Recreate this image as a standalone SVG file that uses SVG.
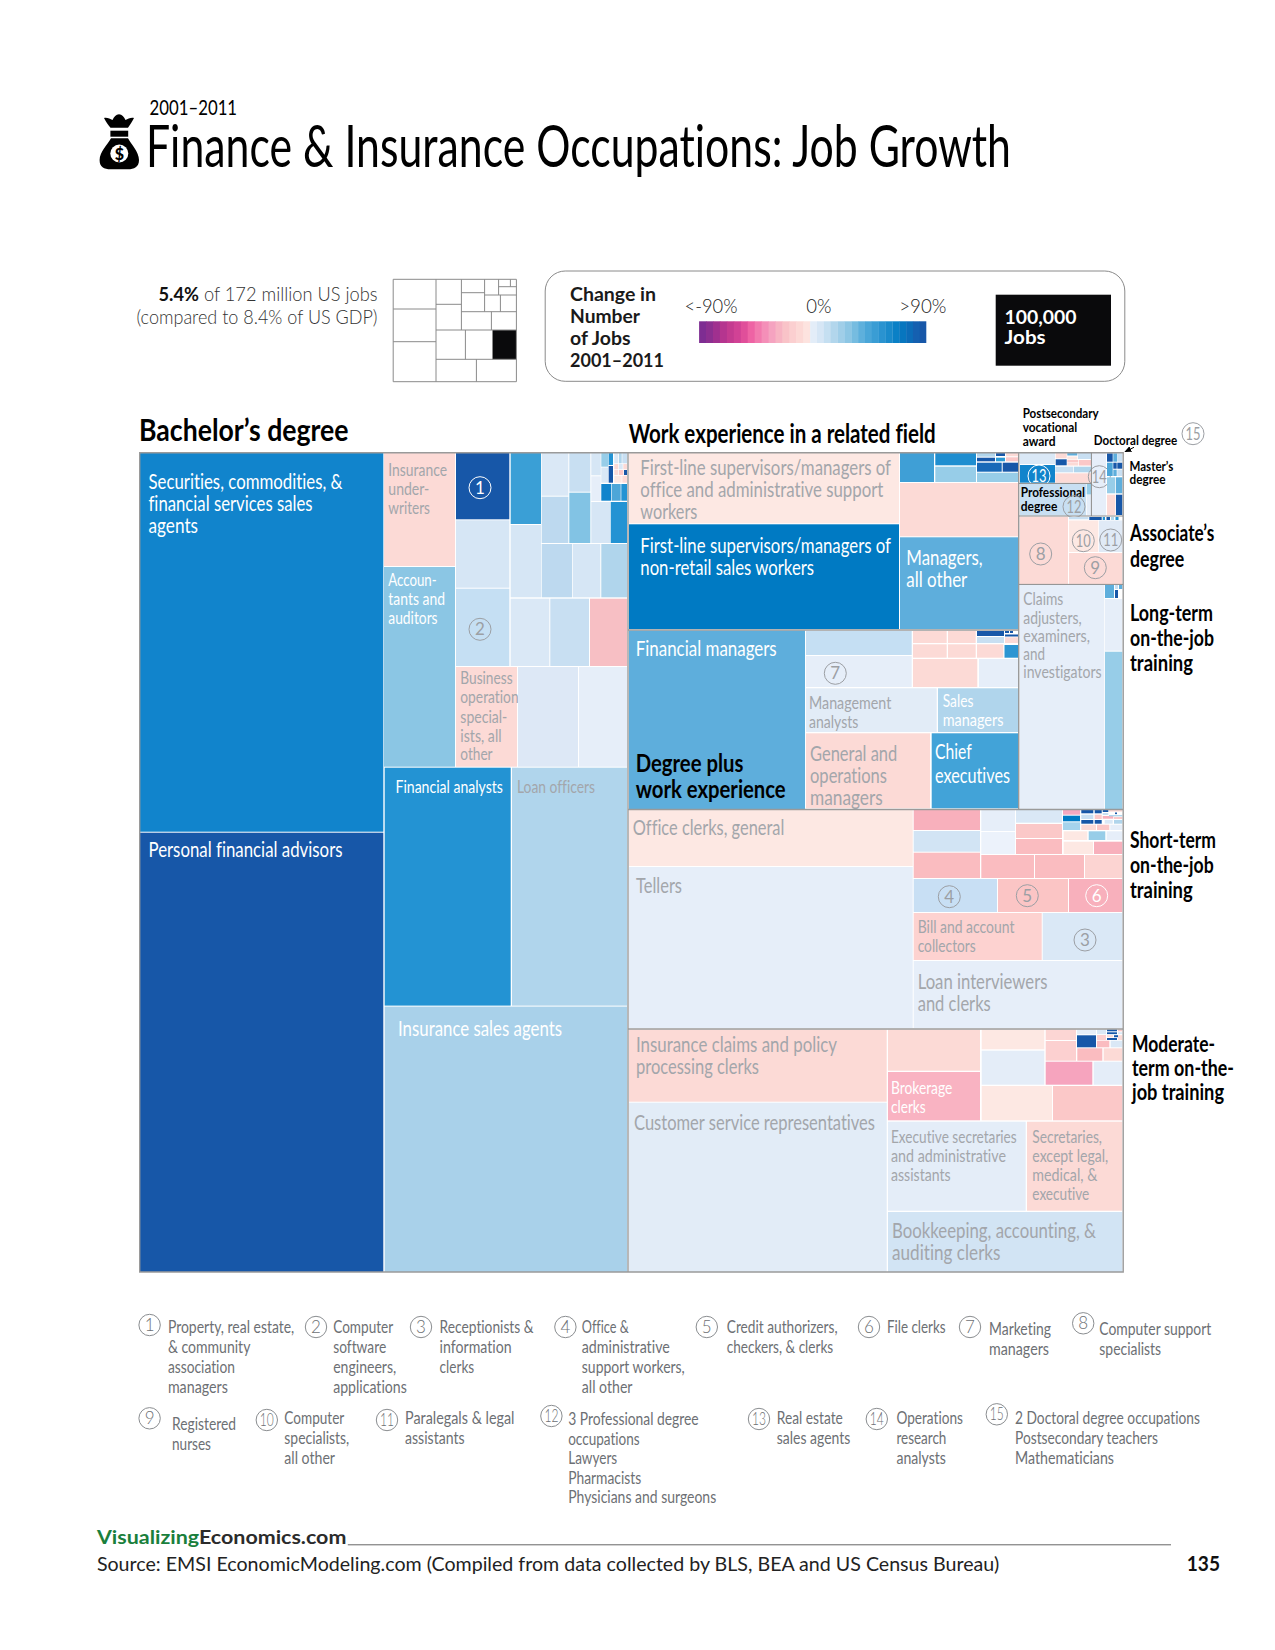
<svg xmlns="http://www.w3.org/2000/svg" width="1275" height="1650" viewBox="0 0 1275 1650">
<style>
text{font-family:"Lato","Noto Sans","Liberation Sans",sans-serif;font-variant-ligatures:none}
.p1{fill:#fde8e3}.p2{fill:#fcdad6}.p3{fill:#fbc8c8}.p4{fill:#fabcc0}.p5{fill:#f8b0bc}.p6{fill:#f6a4be}
.l1{fill:#e6eef9}.l2{fill:#dae8f6}.l3{fill:#c8dff2}.l4{fill:#b0d5ec}.l5{fill:#97cde8}.l6{fill:#bdd9ef}
.m1{fill:#5eaedc}.m2{fill:#42a3d8}.m3{fill:#2393d3}.d1{fill:#1184cc}.d2{fill:#007ac3}.d3{fill:#1757a8}
.w{fill:#fff}.g{fill:#a3a6ab}.k{fill:#000;font-weight:700}
.s16{font-size:17.5px}.s20{font-size:22px}.s13{font-size:13.5px;font-weight:700;fill:#000}.s22{font-size:22px;font-weight:700;fill:#000}
.fn{font-size:17.5px;fill:#6d7074}
.c{fill:none;stroke:#9c9fa4;stroke-width:1}.cw{fill:none;stroke:#fff;stroke-width:1}
.n{font-size:17px;text-anchor:middle;fill:#9c9fa4}.nw{font-size:17px;text-anchor:middle;fill:#fff}
.fc{fill:none;stroke:#8a8d90;stroke-width:1}.fn2{font-size:17px;text-anchor:middle;fill:#6d7074;font-weight:300}
.div{stroke:#9a9a9a;stroke-width:1.4;fill:none}.st{stroke:#8a8a8a;stroke-width:1;fill:none}
.lg{font-size:20px;fill:#222;font-weight:300}.lb{font-size:19px;font-weight:700;fill:#1a1a1a}
</style>
<defs><marker id="ah" markerWidth="7" markerHeight="6" refX="6" refY="3" orient="auto"><path d="M0 0L7 3L0 6Z" fill="#000"/></marker></defs>

<g id="header">
<path d="M104 118C107 117 110 119 112.5 120C114 117 116 114.5 119 114.3C122 114.5 124 117 125.5 120C128 119 131 117 134 118C132 122 130 125 128 127.7H110.5C108 125 106 122 104 118Z" fill="#000"/>
<rect x="110.4" y="130.7" width="17.8" height="6" fill="#000"/>
<path d="M111 138.3H128C131 144 139 152 139 160C139 167 134 169.3 128 169.3H110.6C104 169.3 99.6 167 99.6 160C99.6 152 108 144 111 138.3Z" fill="#000"/>
<circle cx="119.3" cy="153.5" r="9" fill="#fff"/>
<text x="119.3" y="159.5" font-size="16" font-weight="900" text-anchor="middle" fill="#000">$</text>
<text x="149.6" y="115" font-size="22" fill="#000" textLength="87.5" lengthAdjust="spacingAndGlyphs">2001–2011</text>
<text x="146" y="167.3" font-size="58" fill="#000" textLength="865" lengthAdjust="spacingAndGlyphs">Finance &amp; Insurance Occupations: Job Growth</text>
</g>

<g id="share-note">
<text x="158.5" y="300.7" font-size="19" fill="#333" font-weight="300" textLength="219" lengthAdjust="spacingAndGlyphs"><tspan font-weight="700" fill="#111">5.4%</tspan> of 172 million US jobs</text>
<text x="136.5" y="324" font-size="19" fill="#333" font-weight="300" textLength="241" lengthAdjust="spacingAndGlyphs">(compared to 8.4% of US GDP)</text>
</g>
<g id="mini-map">
<rect x="492.5" y="330" width="23.9" height="29.3" fill="#0a0a0c"/>
<path class="st" d="M393.2 279.3H516.4V381.7H393.2ZM436 279.3V381.7M393.2 309H436M393.2 341.7H436M436 304.3H461.4M461.4 279.3V330M436 330H516.4M436 359.3H516.4M461.4 292.7H484.6M461.4 311.7H516.4M484.6 279.3V311.7M498.6 279.3V295M498.6 286.7H516.4M510.4 279.3V286.7M484.6 295H516.4M500.4 295V311.7M491.4 311.7V330M465.4 330V359.3M492.5 330V359.3M476.4 359.3V381.7"/>
</g>

<g id="legend">
<rect x="545.2" y="271" width="579.6" height="110.3" rx="20" fill="#fff" stroke="#8a8a8a" stroke-width="1"/>
<text x="570" y="300.7" class="lb" textLength="86" lengthAdjust="spacingAndGlyphs">Change in</text>
<text x="570" y="323" class="lb" textLength="70" lengthAdjust="spacingAndGlyphs">Number</text>
<text x="570" y="344.7" class="lb" textLength="60.5" lengthAdjust="spacingAndGlyphs">of Jobs</text>
<text x="570" y="366.7" class="lb" textLength="94" lengthAdjust="spacingAndGlyphs">2001–2011</text>
<text x="684.5" y="312.7" class="lg" textLength="53" lengthAdjust="spacingAndGlyphs">&lt;-90%</text>
<text x="806.3" y="312.7" class="lg" textLength="25.2" lengthAdjust="spacingAndGlyphs">0%</text>
<text x="899.2" y="312.7" class="lg" textLength="47.3" lengthAdjust="spacingAndGlyphs">&gt;90%</text>
<g id="scale" transform="translate(0.8,0)">
<rect x="698.3" y="321.3" width="7.4" height="21.7" fill="#7e2d92"/><rect x="705.2" y="321.3" width="7.4" height="21.7" fill="#8c2f90"/><rect x="712.2" y="321.3" width="7.4" height="21.7" fill="#a0308f"/><rect x="719.1" y="321.3" width="7.4" height="21.7" fill="#b5358f"/><rect x="726.1" y="321.3" width="7.4" height="21.7" fill="#c43b90"/><rect x="733" y="321.3" width="7.4" height="21.7" fill="#d14295"/><rect x="740" y="321.3" width="7.4" height="21.7" fill="#e04f9a"/><rect x="746.9" y="321.3" width="7.4" height="21.7" fill="#ee63a4"/><rect x="753.9" y="321.3" width="7.4" height="21.7" fill="#f27aae"/><rect x="760.8" y="321.3" width="7.4" height="21.7" fill="#f48fb8"/><rect x="767.8" y="321.3" width="7.4" height="21.7" fill="#f5a3c0"/><rect x="774.7" y="321.3" width="7.4" height="21.7" fill="#f7b4c3"/><rect x="781.7" y="321.3" width="7.4" height="21.7" fill="#f9c3c8"/><rect x="788.6" y="321.3" width="7.4" height="21.7" fill="#fbcfd0"/><rect x="795.6" y="321.3" width="7.4" height="21.7" fill="#fcd9d6"/><rect x="802.5" y="321.3" width="7.2" height="21.7" fill="#fde3df"/>
<rect x="809.4" y="321.3" width="7.1" height="21.7" fill="#e3edf8"/><rect x="816.2" y="321.3" width="7.1" height="21.7" fill="#d6e6f5"/><rect x="823.1" y="321.3" width="7.1" height="21.7" fill="#c5dff1"/><rect x="829.9" y="321.3" width="7.1" height="21.7" fill="#b2d6ec"/><rect x="836.8" y="321.3" width="7.1" height="21.7" fill="#a0cee8"/><rect x="843.6" y="321.3" width="7.1" height="21.7" fill="#8dc6e4"/><rect x="850.5" y="321.3" width="7.1" height="21.7" fill="#76bce0"/><rect x="857.3" y="321.3" width="7.1" height="21.7" fill="#5eb0dc"/><rect x="864.2" y="321.3" width="7.1" height="21.7" fill="#4aa6d8"/><rect x="871" y="321.3" width="7.1" height="21.7" fill="#3a9dd4"/><rect x="877.9" y="321.3" width="7.1" height="21.7" fill="#2a93d0"/><rect x="884.7" y="321.3" width="7.1" height="21.7" fill="#1a8acb"/><rect x="891.6" y="321.3" width="7.1" height="21.7" fill="#0a80c6"/><rect x="898.4" y="321.3" width="7.1" height="21.7" fill="#0776bf"/><rect x="905.3" y="321.3" width="7.1" height="21.7" fill="#0c6cb8"/><rect x="912.1" y="321.3" width="7.1" height="21.7" fill="#1560b0"/><rect x="919" y="321.3" width="6.5" height="21.7" fill="#1757a8"/>
</g>
<rect x="995.7" y="294.7" width="115.3" height="71" fill="#0a0a0c"/>
<text x="1004.6" y="324" font-size="19" font-weight="700" fill="#fff" textLength="72" lengthAdjust="spacingAndGlyphs">100,000</text>
<text x="1004.6" y="344.3" font-size="19" font-weight="700" fill="#fff" textLength="41" lengthAdjust="spacingAndGlyphs">Jobs</text>
</g>

<g id="bachelors">
<g id="securities"><rect class="d1" x="139.7" y="452.7" width="243.6" height="379"/>
<text x="148.5" y="488.7" class="s20 w" textLength="194" lengthAdjust="spacingAndGlyphs">Securities, commodities, &amp;</text><text x="148.5" y="510.8" class="s20 w" textLength="164" lengthAdjust="spacingAndGlyphs">financial services sales</text><text x="148.5" y="533" class="s20 w" textLength="49.5" lengthAdjust="spacingAndGlyphs">agents</text></g>
<g id="personal-advisors"><rect class="d3" x="139.7" y="832.7" width="243.6" height="439.3"/>
<text x="148.5" y="857" class="s20 w" textLength="194" lengthAdjust="spacingAndGlyphs">Personal financial advisors</text></g>
<g id="underwriters"><rect class="p2" x="384" y="452.7" width="71" height="113.3"/>
<text x="388.3" y="476" class="s16 g" textLength="58.7" lengthAdjust="spacingAndGlyphs">Insurance</text><text x="388.3" y="495.3" class="s16 g" textLength="41" lengthAdjust="spacingAndGlyphs">under-</text><text x="388.3" y="514.3" class="s16 g" textLength="41.7" lengthAdjust="spacingAndGlyphs">writers</text></g>
<g id="accountants"><rect x="384" y="567" width="71" height="199.7" fill="#8bc6e4"/>
<text x="388.3" y="586" class="s16 w" textLength="48.3" lengthAdjust="spacingAndGlyphs">Accoun-</text><text x="388.3" y="605" class="s16 w" textLength="56.7" lengthAdjust="spacingAndGlyphs">tants and</text><text x="388.3" y="624.3" class="s16 w" textLength="49.3" lengthAdjust="spacingAndGlyphs">auditors</text></g>
<g id="cell-1"><rect class="d3" x="456" y="452.7" width="53.3" height="66.6"/><circle class="cw" cx="480" cy="487.7" r="11"/><text x="480" y="493.7" class="nw">1</text></g>
<rect x="456" y="520.3" width="53.3" height="67.4" fill="#d6e6f5"/>
<g id="cell-2"><rect x="456" y="588.7" width="53.3" height="77.3" fill="#c5dff3"/><circle class="c" cx="480" cy="629.3" r="11"/><text x="480" y="635.3" class="n">2</text></g>
<g id="business-ops"><rect class="p2" x="456" y="667" width="61" height="99.7"/>
<text x="460.3" y="684.3" class="s16 g" textLength="52.3" lengthAdjust="spacingAndGlyphs">Business</text><text x="460.3" y="703.3" class="s16 g" textLength="58.3" lengthAdjust="spacingAndGlyphs">operation</text><text x="460.3" y="722.6" class="s16 g" textLength="47" lengthAdjust="spacingAndGlyphs">special-</text><text x="460.3" y="741.6" class="s16 g" textLength="41.3" lengthAdjust="spacingAndGlyphs">ists, all</text><text x="460.3" y="760.3" class="s16 g" textLength="32.3" lengthAdjust="spacingAndGlyphs">other</text></g>
<rect x="518" y="667" width="60" height="99.7" fill="#dde8f6"/>
<rect class="l1" x="579" y="667" width="48" height="99.7"/>
<rect x="510.7" y="452.7" width="30.3" height="71.3" fill="#3a9fd6"/>
<rect x="510.7" y="525" width="30.3" height="72.3" fill="#d6e6f5"/>
<rect class="l2" x="541.7" y="452.7" width="26.6" height="43"/>
<rect class="l6" x="541.7" y="496.7" width="26.6" height="46.3"/>
<rect class="l3" x="569.3" y="452.7" width="21" height="39"/>
<rect x="569.3" y="492.7" width="21" height="50.3" fill="#82c3e4"/>
<rect x="591.3" y="452.7" width="9.4" height="22.6" fill="#d6e6f5"/>
<rect class="l1" x="591.3" y="476.3" width="9.4" height="24.7"/>
<rect x="591.3" y="502" width="18.7" height="41" fill="#d6e6f5"/>
<rect class="m3" x="610.7" y="502" width="16.3" height="41"/>
<rect class="d1" x="601.3" y="484" width="10" height="16.7"/>
<rect x="612" y="484" width="8.7" height="16.7" fill="#4da6d8"/>
<rect class="m3" x="621.3" y="484" width="5.7" height="16.7"/>
<rect class="l5" x="601.3" y="452.7" width="7" height="14"/>
<rect class="l2" x="601.3" y="467.5" width="7" height="15.2"/>
<rect class="m3" x="608.7" y="452.7" width="4.3" height="12.3"/>
<rect class="d3" x="608.7" y="466" width="4.3" height="16.7"/>
<rect class="l2" x="614.3" y="452.7" width="4" height="10.6"/><rect class="l4" x="619" y="452.7" width="2.7" height="10.6"/><rect class="l3" x="622.3" y="452.7" width="4.7" height="10.6"/>
<rect class="p2" x="614.3" y="464" width="4" height="5.3"/><rect class="l2" x="619" y="464" width="3.7" height="5.3"/><rect class="p2" x="623.3" y="464" width="3.7" height="5.3"/>
<rect class="p2" x="614.3" y="470" width="4" height="5"/><rect class="p3" x="619" y="470" width="4.3" height="5"/><rect class="d3" x="624" y="470" width="3" height="5"/>
<rect class="p1" x="614.3" y="475.7" width="7.4" height="7"/><rect class="p2" x="622.3" y="475.7" width="4.7" height="7"/>
<rect class="l6" x="541.7" y="544" width="30.3" height="53.3"/>
<rect x="572.7" y="544" width="27.6" height="53.3" fill="#d6e6f5"/>
<rect class="l4" x="601.3" y="544" width="25.7" height="53.3"/>
<rect class="l2" x="510.7" y="598.7" width="38.6" height="67.3"/>
<rect class="l3" x="550.3" y="598.7" width="38.7" height="67.3"/>
<rect x="590" y="598.7" width="37" height="67.3" fill="#f7bfc4"/>
<g id="financial-analysts"><rect class="m3" x="384.7" y="767.7" width="126" height="237.9"/>
<text x="395.5" y="793" class="s16 w" textLength="107.4" lengthAdjust="spacingAndGlyphs">Financial analysts</text></g>
<g id="loan-officers"><rect class="l4" x="512" y="767.7" width="115" height="237.9"/>
<text x="517" y="793" class="s16 g" textLength="78" lengthAdjust="spacingAndGlyphs">Loan officers</text></g>
<g id="insurance-sales"><rect x="384.7" y="1006.6" width="242.3" height="265.4" fill="#a9d1ea"/>
<text x="398" y="1036" class="s20 w" textLength="164" lengthAdjust="spacingAndGlyphs">Insurance sales agents</text></g>
</g>

<g id="work-experience">
<g id="supervisors-office"><rect class="p1" x="629" y="452.7" width="270" height="70.6"/>
<text x="640.3" y="475" class="s20 g" textLength="250.7" lengthAdjust="spacingAndGlyphs">First-line supervisors/managers of</text><text x="640.3" y="496.7" class="s20 g" textLength="243" lengthAdjust="spacingAndGlyphs">office and administrative support</text><text x="640.3" y="519.3" class="s20 g" textLength="57" lengthAdjust="spacingAndGlyphs">workers</text></g>
<g id="supervisors-sales"><rect class="d2" x="629" y="524.3" width="270" height="104.7"/>
<text x="640.3" y="552.7" class="s20 w" textLength="250.7" lengthAdjust="spacingAndGlyphs">First-line supervisors/managers of</text><text x="640.3" y="575" class="s20 w" textLength="173.7" lengthAdjust="spacingAndGlyphs">non-retail sales workers</text></g>
<rect x="900" y="452.7" width="34" height="29.3" fill="#3f9fd6"/>
<rect x="935.3" y="452.7" width="40.7" height="12.6" fill="#1f8ed0"/>
<rect class="l5" x="935.3" y="466.7" width="40.7" height="15.3"/>
<rect class="l4" x="977" y="452.7" width="18" height="4"/><rect class="d3" x="977" y="457.7" width="18" height="3.6"/>
<rect class="d3" x="996" y="452.7" width="9" height="3.3"/><rect x="996" y="457.7" width="9" height="3.6" fill="#2d9ad4"/>
<rect class="p2" x="1006" y="452.7" width="12" height="3.6"/><rect class="p3" x="1006" y="457.3" width="12" height="4"/>
<rect x="977" y="462.7" width="24.7" height="9" fill="#1869b8"/><rect class="d3" x="1002.7" y="462.7" width="15.3" height="9"/>
<rect class="l5" x="977" y="472.7" width="41" height="9.3"/>
<rect class="p2" x="900" y="483" width="118" height="53.3"/>
<g id="managers-other"><rect class="m1" x="900" y="537.3" width="118" height="91.7"/>
<text x="906.3" y="565" class="s20 w" textLength="76.3" lengthAdjust="spacingAndGlyphs">Managers,</text><text x="906.3" y="586.7" class="s20 w" textLength="61" lengthAdjust="spacingAndGlyphs">all other</text></g>
</g>

<g id="degree-plus">
<g id="financial-managers"><rect class="m1" x="629" y="630.5" width="176" height="178.5"/>
<text x="635.7" y="655.7" class="s20 w" textLength="141" lengthAdjust="spacingAndGlyphs">Financial managers</text></g>
<rect x="806" y="631" width="105.7" height="24" fill="#c5dff3"/>
<g id="cell-7"><rect class="l1" x="806" y="656" width="105.7" height="31"/><circle class="c" cx="835.3" cy="673.3" r="11"/><text x="835.3" y="679.3" class="n">7</text></g>
<rect class="p2" x="913" y="631" width="33.7" height="12"/><rect class="p2" x="948" y="631" width="27.7" height="12"/>
<rect class="p2" x="913" y="644.3" width="33.7" height="13.4"/><rect class="p2" x="948" y="644.3" width="27.7" height="13.4"/><rect class="p2" x="977" y="644.3" width="26.3" height="13.4"/>
<rect class="d3" x="977" y="631" width="27" height="5"/><rect class="l3" x="977" y="637" width="27" height="6"/>
<rect class="d3" x="1005" y="631" width="4" height="2"/><rect class="d3" x="1010" y="631" width="3" height="2"/><rect class="d3" x="1005" y="634.5" width="13" height="2"/>
<rect class="p2" x="1005" y="637.3" width="13" height="5.7"/><rect x="1004.5" y="645" width="13.5" height="12.7" fill="#2d95d2"/>
<rect class="p2" x="913" y="659" width="64.3" height="28"/><rect class="l1" x="979" y="659" width="39" height="28"/>
<g id="management-analysts"><rect x="806" y="688.3" width="130.7" height="43.7" fill="#e2ecf7"/>
<text x="809" y="709.3" class="s16 g" textLength="82.3" lengthAdjust="spacingAndGlyphs">Management</text><text x="809" y="728" class="s16 g" textLength="49.3" lengthAdjust="spacingAndGlyphs">analysts</text></g>
<g id="sales-managers"><rect class="l4" x="938" y="688.3" width="80" height="43.7"/>
<text x="942.7" y="707" class="s16 w" textLength="30.7" lengthAdjust="spacingAndGlyphs">Sales</text><text x="942.7" y="726" class="s16 w" textLength="60.7" lengthAdjust="spacingAndGlyphs">managers</text></g>
<g id="general-managers"><rect class="p2" x="806" y="733.3" width="124" height="75"/>
<text x="810" y="760.7" class="s20 g" textLength="87.3" lengthAdjust="spacingAndGlyphs">General and</text><text x="810" y="782.7" class="s20 g" textLength="77" lengthAdjust="spacingAndGlyphs">operations</text><text x="810" y="805" class="s20 g" textLength="72.7" lengthAdjust="spacingAndGlyphs">managers</text></g>
<g id="chief-executives"><rect class="m2" x="931.7" y="733.3" width="86.3" height="75"/>
<text x="935" y="759" class="s20 w" textLength="36.7" lengthAdjust="spacingAndGlyphs">Chief</text><text x="935" y="782.7" class="s20 w" textLength="75" lengthAdjust="spacingAndGlyphs">executives</text></g>
<text x="635.7" y="772.3" font-size="25" class="k" textLength="107.7" lengthAdjust="spacingAndGlyphs">Degree plus</text>
<text x="635.7" y="798.3" font-size="25" class="k" textLength="150" lengthAdjust="spacingAndGlyphs">work experience</text>
</g>

<g id="postsecondary">
<rect class="l2" x="1020" y="452.7" width="35" height="11.3"/>
<g id="cell-13"><rect class="d1" x="1020" y="465" width="35" height="17.7"/><circle class="cw" cx="1039" cy="476" r="11"/><text x="1039" y="482" class="nw" textLength="15" lengthAdjust="spacingAndGlyphs">13</text></g>
<rect class="p2" x="1055.7" y="453" width="11" height="5.3"/><rect class="m1" x="1067.3" y="453" width="10" height="2.5"/><rect class="p1" x="1067.3" y="456.5" width="10" height="3"/><rect class="l3" x="1078" y="453" width="13" height="6"/>
<rect class="d3" x="1055.7" y="459.3" width="11" height="6"/><rect class="p3" x="1067.3" y="460" width="11" height="2.5"/><rect class="p2" x="1067.3" y="463" width="11" height="2.5"/><rect class="p3" x="1079" y="460" width="12" height="5.5"/>
<rect class="l3" x="1055.3" y="466.7" width="18" height="5.6"/><rect class="l4" x="1074" y="466.7" width="17" height="5.6"/>
<rect class="p2" x="1055.3" y="473.3" width="35.7" height="9.4"/>
<g id="cell-12"><rect class="l3" x="1020" y="484" width="66" height="31.5"/><rect class="l5" x="1086.7" y="484" width="4.3" height="10.5"/><rect class="l1" x="1086.7" y="495" width="4.3" height="20.5"/>
<text x="1020.7" y="496.7" class="s13" textLength="64.3" lengthAdjust="spacingAndGlyphs">Professional</text><text x="1020.7" y="510.7" class="s13" textLength="36.6" lengthAdjust="spacingAndGlyphs">degree</text>
<circle class="c" cx="1074" cy="506.7" r="11"/><text x="1074" y="512.7" class="n" textLength="15" lengthAdjust="spacingAndGlyphs">12</text></g>
<g id="cell-14"><rect class="l1" x="1091.7" y="452.7" width="14.3" height="63"/><circle class="c" cx="1099.3" cy="476.7" r="11"/><text x="1099.3" y="482.7" class="n" textLength="15" lengthAdjust="spacingAndGlyphs">14</text></g>
<rect class="d3" x="1107" y="453.3" width="5.7" height="8.4"/><rect class="m1" x="1113.3" y="453.3" width="4" height="8.4"/><rect class="l3" x="1118" y="453.3" width="4.3" height="8.4"/>
<rect x="1107" y="462.7" width="5.7" height="13.3" fill="#4da6d8"/><rect class="d3" x="1113.3" y="462.7" width="3.4" height="6"/><rect class="m1" x="1113.3" y="469.7" width="3.4" height="6.3"/><rect class="d3" x="1117.3" y="462.7" width="5" height="6"/><rect class="l3" x="1117.3" y="469.7" width="5" height="6.3"/>
<rect class="l5" x="1107" y="477.3" width="8.3" height="16"/><rect class="m1" x="1116" y="477.3" width="6.3" height="16"/>
<rect class="p2" x="1107" y="494.7" width="8.3" height="20.3"/><rect class="d3" x="1116" y="494.7" width="6.3" height="20.3"/>
<rect class="d3" x="1089.3" y="517" width="12.4" height="3"/><rect class="m3" x="1102.7" y="517" width="2.3" height="3"/><rect class="d3" x="1106.5" y="517" width="3.5" height="3"/><rect class="l4" x="1111" y="517" width="3" height="3"/><rect class="m3" x="1115.5" y="517" width="3" height="3"/><rect class="l3" x="1069" y="517" width="19.5" height="2.3"/>
<g id="cell-8"><rect class="p2" x="1019.7" y="516.7" width="48.3" height="67.3"/><circle class="c" cx="1040.7" cy="554" r="11"/><text x="1040.7" y="560" class="n">8</text></g>
<g id="cell-10"><rect class="p1" x="1069" y="520.5" width="29.3" height="31.5"/><circle class="c" cx="1083.3" cy="540.7" r="11"/><text x="1083.3" y="546.7" class="n" textLength="15" lengthAdjust="spacingAndGlyphs">10</text></g>
<g id="cell-11"><rect x="1099" y="520.5" width="23.3" height="31.5" fill="#e0eaf6"/><circle class="c" cx="1110.7" cy="540" r="11"/><text x="1110.7" y="546" class="n" textLength="15" lengthAdjust="spacingAndGlyphs">11</text></g>
<g id="cell-9"><rect class="p2" x="1069" y="553" width="53.3" height="31"/><circle class="c" cx="1095.3" cy="567.7" r="11"/><text x="1095.3" y="573.7" class="n">9</text></g>
<g id="claims"><rect class="l1" x="1019.7" y="585" width="84.6" height="224"/>
<text x="1023.3" y="605" class="s16 g" textLength="40" lengthAdjust="spacingAndGlyphs">Claims</text><text x="1023.3" y="624" class="s16 g" textLength="58.3" lengthAdjust="spacingAndGlyphs">adjusters,</text><text x="1023.3" y="642.3" class="s16 g" textLength="66.7" lengthAdjust="spacingAndGlyphs">examiners,</text><text x="1023.3" y="660" class="s16 g" textLength="21.7" lengthAdjust="spacingAndGlyphs">and</text><text x="1023.3" y="677.7" class="s16 g" textLength="78.3" lengthAdjust="spacingAndGlyphs">investigators</text></g>
<rect class="m1" x="1105" y="585" width="9" height="13"/><rect class="d3" x="1115" y="590" width="3" height="8"/><rect class="l3" x="1115" y="585" width="3" height="4"/><rect class="m1" x="1119" y="585" width="3.3" height="4"/><rect class="l1" x="1105" y="599" width="17.3" height="51.7"/>
<rect class="l5" x="1105" y="651.7" width="17.3" height="157.3"/>
</g>

<g id="short-term">
<g id="office-clerks"><rect class="p1" x="629" y="810" width="283.7" height="56"/>
<text x="632.8" y="835" class="s20 g" textLength="151.6" lengthAdjust="spacingAndGlyphs">Office clerks, general</text></g>
<g id="tellers"><rect class="l1" x="629" y="867" width="283.7" height="161"/>
<text x="636" y="893" class="s20 g" textLength="46" lengthAdjust="spacingAndGlyphs">Tellers</text></g>
<rect class="p5" x="913.7" y="810" width="66.3" height="20"/>
<rect x="913.7" y="831" width="66.3" height="20.7" fill="#d2e4f4"/>
<rect class="p4" x="913.7" y="852.7" width="66.3" height="25.3"/>
<rect class="l1" x="981.3" y="810" width="33.7" height="21"/>
<rect x="981.3" y="832" width="33.7" height="22" fill="#ecf2fb"/>
<rect class="l2" x="1016" y="810" width="46" height="12.7"/>
<rect class="p3" x="1016" y="824" width="46" height="14"/>
<rect class="p4" x="1016" y="839" width="46" height="15"/>
<rect class="p4" x="981.3" y="855" width="52.7" height="23"/>
<rect class="p4" x="1035" y="855" width="49" height="23"/>
<rect x="1085" y="855" width="37.3" height="23" fill="#fcd4d2"/>
<rect x="1063" y="810" width="17" height="4.7" fill="#f4a9c0"/><rect class="d2" x="1063" y="815.7" width="17" height="5.6"/><rect x="1063" y="822.3" width="17" height="7.7" fill="#a5d3ec"/>
<rect class="d3" x="1081.3" y="810" width="12" height="3.3"/><rect class="l3" x="1081.3" y="814.7" width="12" height="4.3"/><rect class="d3" x="1081.3" y="820" width="12" height="3.7"/>
<rect class="d3" x="1094.7" y="810" width="7" height="3.3"/><rect class="p3" x="1094.7" y="814.7" width="7" height="4.3"/><rect class="d3" x="1094.7" y="820" width="7" height="3.7"/>
<rect class="d3" x="1102.7" y="810" width="5.6" height="2"/><rect class="l3" x="1102.7" y="813" width="5.6" height="2"/><rect class="p5" x="1102.7" y="816" width="10.6" height="2.7"/>
<rect class="l2" x="1104.7" y="820" width="8" height="3.7"/><rect class="l4" x="1114" y="820" width="8.3" height="3.7"/>
<rect class="p2" x="1109" y="810" width="13.3" height="1.6"/><rect class="d3" x="1115" y="812.5" width="2" height="1.6"/><rect class="l4" x="1109" y="815" width="13.3" height="1.4"/><rect class="p3" x="1114" y="817" width="8.3" height="2"/>
<rect class="p2" x="1081.3" y="824.7" width="14.7" height="5.3"/><rect class="p3" x="1097" y="824.7" width="12.3" height="5.3"/><rect class="l1" x="1110.3" y="824.7" width="12" height="5.3"/>
<rect class="p1" x="1063.7" y="831.3" width="23.6" height="8.7"/><rect class="l5" x="1088.7" y="831.3" width="16.6" height="8.7"/><rect class="l1" x="1106.7" y="831.3" width="15.6" height="8.7"/>
<rect class="p1" x="1063.7" y="841.7" width="29.3" height="12.3"/><rect class="p5" x="1094" y="841.7" width="28.3" height="12.3"/>
<g id="cell-4"><rect x="913.7" y="879" width="83.3" height="33" fill="#c8dff4"/><circle class="c" cx="949.3" cy="896.7" r="11"/><text x="949.3" y="902.7" class="n">4</text></g>
<g id="cell-5"><rect x="998" y="879" width="70" height="33" fill="#fbc5c5"/><circle class="c" cx="1027.3" cy="895.7" r="11"/><text x="1027.3" y="901.7" class="n">5</text></g>
<g id="cell-6"><rect class="p5" x="1069" y="879" width="53.3" height="33"/><circle class="cw" cx="1096.7" cy="895.7" r="11"/><text x="1096.7" y="901.7" class="nw">6</text></g>
<g id="bill-collectors"><rect x="913.7" y="913" width="128" height="47" fill="#fdd2d0"/>
<text x="917.7" y="932.6" class="s16 g" textLength="96.7" lengthAdjust="spacingAndGlyphs">Bill and account</text><text x="917.7" y="951.6" class="s16 g" textLength="58" lengthAdjust="spacingAndGlyphs">collectors</text></g>
<g id="cell-3"><rect class="l2" x="1042.7" y="913" width="79.6" height="47"/><circle class="c" cx="1085" cy="940" r="11"/><text x="1085" y="946" class="n">3</text></g>
<g id="loan-interviewers"><rect class="l1" x="913.7" y="961" width="208.6" height="67"/>
<text x="917.7" y="989.3" class="s20 g" textLength="129.7" lengthAdjust="spacingAndGlyphs">Loan interviewers</text><text x="917.7" y="1011" class="s20 g" textLength="73" lengthAdjust="spacingAndGlyphs">and clerks</text></g>
</g>

<g id="moderate-term">
<g id="claims-clerks"><rect class="p2" x="629" y="1029.5" width="257.7" height="72.2"/>
<text x="636" y="1052" class="s20 g" textLength="201" lengthAdjust="spacingAndGlyphs">Insurance claims and policy</text><text x="636" y="1074" class="s20 g" textLength="123" lengthAdjust="spacingAndGlyphs">processing clerks</text></g>
<g id="customer-service"><rect x="629" y="1102.7" width="257.7" height="169.3" fill="#e2ecf7"/>
<text x="634" y="1130" class="s20 g" textLength="241" lengthAdjust="spacingAndGlyphs">Customer service representatives</text></g>
<rect class="p2" x="888" y="1029.5" width="92" height="41.2"/>
<g id="brokerage"><rect x="888" y="1072" width="92" height="48.3" fill="#f9b3c2"/>
<text x="891" y="1094.3" class="s16 w" textLength="61.3" lengthAdjust="spacingAndGlyphs">Brokerage</text><text x="891" y="1113.3" class="s16 w" textLength="34.7" lengthAdjust="spacingAndGlyphs">clerks</text></g>
<rect class="p1" x="981.7" y="1029.5" width="62.6" height="19.8"/>
<rect x="981.7" y="1050.7" width="62.6" height="34" fill="#e4edf8"/>
<rect class="p1" x="981.7" y="1086" width="70.3" height="34.3"/>
<rect class="p3" x="1053" y="1086" width="69.3" height="34.3"/>
<rect x="1045.7" y="1029.5" width="30.3" height="10.5" fill="#fcd6d4"/>
<rect x="1045.7" y="1041" width="30.3" height="19.7" fill="#fcd0d0"/>
<rect class="p6" x="1045.7" y="1061.7" width="46.6" height="23"/>
<rect x="1093.7" y="1061.7" width="28.6" height="23" fill="#e4edf8"/>
<rect class="d3" x="1077" y="1035.3" width="19" height="12"/>
<rect class="p4" x="1077.3" y="1048.3" width="25" height="12.4"/>
<rect class="p2" x="1103.7" y="1048.3" width="18.6" height="12.4"/>
<rect class="p4" x="1097" y="1040.7" width="12.3" height="6.6"/>
<rect class="l2" x="1110.7" y="1040.7" width="11.6" height="6.6"/>
<rect x="1097" y="1035" width="9" height="5" fill="#fcd0d0"/>
<rect class="l1" x="1077" y="1029.5" width="19" height="4.8"/>
<rect class="l2" x="1097" y="1029.5" width="9" height="4.7"/>
<rect class="d3" x="1107" y="1029.5" width="10" height="1.8"/><rect class="p3" x="1118" y="1029.5" width="4.3" height="1.8"/><rect class="d3" x="1107" y="1032.3" width="10" height="1.8"/><rect class="l2" x="1118" y="1032.3" width="4.3" height="1.8"/><rect class="d3" x="1114" y="1035.2" width="4" height="2"/><rect class="p2" x="1107" y="1035.2" width="6" height="2"/><rect class="d3" x="1107" y="1038" width="10" height="2"/><rect class="p2" x="1118" y="1035.2" width="4.3" height="4.8"/>
<g id="executive-secretaries"><rect x="888" y="1121.7" width="137.7" height="89" fill="#e4edf8"/>
<text x="891" y="1143" class="s16 g" textLength="125.7" lengthAdjust="spacingAndGlyphs">Executive secretaries</text><text x="891" y="1162.3" class="s16 g" textLength="115" lengthAdjust="spacingAndGlyphs">and administrative</text><text x="891" y="1181" class="s16 g" textLength="59.7" lengthAdjust="spacingAndGlyphs">assistants</text></g>
<g id="secretaries"><rect class="p2" x="1027" y="1121.7" width="95.3" height="89"/>
<text x="1032.3" y="1143" class="s16 g" textLength="69.7" lengthAdjust="spacingAndGlyphs">Secretaries,</text><text x="1032.3" y="1162.3" class="s16 g" textLength="76" lengthAdjust="spacingAndGlyphs">except legal,</text><text x="1032.3" y="1181" class="s16 g" textLength="65" lengthAdjust="spacingAndGlyphs">medical, &amp;</text><text x="1032.3" y="1200" class="s16 g" textLength="57" lengthAdjust="spacingAndGlyphs">executive</text></g>
<g id="bookkeeping"><rect x="888" y="1212" width="234.3" height="60" fill="#d2e4f4"/>
<text x="892" y="1238.3" class="s20 g" textLength="204" lengthAdjust="spacingAndGlyphs">Bookkeeping, accounting, &amp;</text><text x="892" y="1259.5" class="s20 g" textLength="108.5" lengthAdjust="spacingAndGlyphs">auditing clerks</text></g>
</g>

<g id="dividers">
<path class="div" d="M139.7 452.7H1123.2V1272H139.7ZM628 452.7V1272M628 630H1018.5M1018.7 452.7V809.5M628 809.5H1123.2M628 1029H1123.2"/>
<path class="st" d="M1019 483.4H1091.4M1091.4 452.7V516M1019 516H1123M1019 584.4H1123" stroke-width="1.2"/>
</g>

<g id="group-labels">
<text x="139" y="441" font-size="30" class="k" textLength="209.5" lengthAdjust="spacingAndGlyphs">Bachelor’s degree</text>
<text x="628.7" y="443.3" font-size="26" class="k" textLength="307" lengthAdjust="spacingAndGlyphs">Work experience in a related field</text>
<text x="1022.7" y="417.7" class="s13" textLength="76" lengthAdjust="spacingAndGlyphs">Postsecondary</text>
<text x="1022.7" y="431.7" class="s13" textLength="54.5" lengthAdjust="spacingAndGlyphs">vocational</text>
<text x="1022.7" y="446" class="s13" textLength="32.8" lengthAdjust="spacingAndGlyphs">award</text>
<text x="1093.8" y="445" class="s13" textLength="83.4" lengthAdjust="spacingAndGlyphs">Doctoral degree</text>
<g id="cell-15"><circle class="c" cx="1193" cy="433.7" r="11"/><text x="1193" y="439.7" class="n" textLength="15" lengthAdjust="spacingAndGlyphs">15</text></g>
<text x="1129.5" y="470.7" class="s13" textLength="43.7" lengthAdjust="spacingAndGlyphs">Master’s</text>
<text x="1129.5" y="484.3" class="s13" textLength="36" lengthAdjust="spacingAndGlyphs">degree</text>
<text x="1130" y="541" class="s22" textLength="84.3" lengthAdjust="spacingAndGlyphs">Associate’s</text>
<text x="1130" y="566.5" class="s22" textLength="54.3" lengthAdjust="spacingAndGlyphs">degree</text>
<text x="1130" y="621" class="s22" textLength="83" lengthAdjust="spacingAndGlyphs">Long-term</text>
<text x="1130" y="646" class="s22" textLength="84" lengthAdjust="spacingAndGlyphs">on-the-job</text>
<text x="1130" y="670.5" class="s22" textLength="63" lengthAdjust="spacingAndGlyphs">training</text>
<text x="1130" y="848.3" class="s22" textLength="86" lengthAdjust="spacingAndGlyphs">Short-term</text>
<text x="1130" y="873.3" class="s22" textLength="83.7" lengthAdjust="spacingAndGlyphs">on-the-job</text>
<text x="1130" y="898.3" class="s22" textLength="62.7" lengthAdjust="spacingAndGlyphs">training</text>
<text x="1132" y="1051.7" class="s22" textLength="83" lengthAdjust="spacingAndGlyphs">Moderate-</text>
<text x="1132" y="1076" class="s22" textLength="102" lengthAdjust="spacingAndGlyphs">term on-the-</text>
<text x="1132" y="1100" class="s22" textLength="92" lengthAdjust="spacingAndGlyphs">job training</text>
</g>

<g id="connectors">
<path d="M1134 447.3L1125.3 451.6" stroke="#000" stroke-width="1" fill="none" marker-end="url(#ah)"/>
</g>

<g id="footnotes">
<g id="fn-1"><circle class="fc" cx="149.6" cy="1325" r="10.7"/><text x="149.6" y="1331" class="fn2">1</text>
<text x="167.9" y="1333.3" class="fn" textLength="126.4" lengthAdjust="spacingAndGlyphs">Property, real estate,</text><text x="167.9" y="1353.3" class="fn" textLength="82.5" lengthAdjust="spacingAndGlyphs">&amp; community</text><text x="167.9" y="1373.3" class="fn" textLength="67" lengthAdjust="spacingAndGlyphs">association</text><text x="167.9" y="1392.7" class="fn" textLength="60" lengthAdjust="spacingAndGlyphs">managers</text></g>
<g id="fn-2"><circle class="fc" cx="316" cy="1327" r="10.7"/><text x="316" y="1333" class="fn2">2</text>
<text x="333.2" y="1333.3" class="fn" textLength="60" lengthAdjust="spacingAndGlyphs">Computer</text><text x="333.2" y="1353.3" class="fn" textLength="53" lengthAdjust="spacingAndGlyphs">software</text><text x="333.2" y="1373.3" class="fn" textLength="63" lengthAdjust="spacingAndGlyphs">engineers,</text><text x="333.2" y="1392.7" class="fn" textLength="73.6" lengthAdjust="spacingAndGlyphs">applications</text></g>
<g id="fn-3"><circle class="fc" cx="421" cy="1327" r="10.7"/><text x="421" y="1333" class="fn2">3</text>
<text x="439.6" y="1333.3" class="fn" textLength="94" lengthAdjust="spacingAndGlyphs">Receptionists &amp;</text><text x="439.6" y="1353.3" class="fn" textLength="72" lengthAdjust="spacingAndGlyphs">information</text><text x="439.6" y="1373.3" class="fn" textLength="34.6" lengthAdjust="spacingAndGlyphs">clerks</text></g>
<g id="fn-4"><circle class="fc" cx="565.4" cy="1327" r="10.7"/><text x="565.4" y="1333" class="fn2">4</text>
<text x="581.8" y="1333.3" class="fn" textLength="47" lengthAdjust="spacingAndGlyphs">Office &amp;</text><text x="581.8" y="1353.3" class="fn" textLength="88" lengthAdjust="spacingAndGlyphs">administrative</text><text x="581.8" y="1373.3" class="fn" textLength="103" lengthAdjust="spacingAndGlyphs">support workers,</text><text x="581.8" y="1392.7" class="fn" textLength="50.7" lengthAdjust="spacingAndGlyphs">all other</text></g>
<g id="fn-5"><circle class="fc" cx="706.8" cy="1327" r="10.7"/><text x="706.8" y="1333" class="fn2">5</text>
<text x="726.8" y="1333.3" class="fn" textLength="110.7" lengthAdjust="spacingAndGlyphs">Credit authorizers,</text><text x="726.8" y="1353.3" class="fn" textLength="106.4" lengthAdjust="spacingAndGlyphs">checkers, &amp; clerks</text></g>
<g id="fn-6"><circle class="fc" cx="869" cy="1327" r="10.7"/><text x="869" y="1333" class="fn2">6</text>
<text x="887" y="1332.7" class="fn" textLength="58.6" lengthAdjust="spacingAndGlyphs">File clerks</text></g>
<g id="fn-7"><circle class="fc" cx="970" cy="1327" r="10.7"/><text x="970" y="1333" class="fn2">7</text>
<text x="989" y="1335" class="fn" textLength="62" lengthAdjust="spacingAndGlyphs">Marketing</text><text x="989" y="1355" class="fn" textLength="60" lengthAdjust="spacingAndGlyphs">managers</text></g>
<g id="fn-8"><circle class="fc" cx="1083.2" cy="1323.3" r="10.7"/><text x="1083.2" y="1329.3" class="fn2">8</text>
<text x="1099.3" y="1335" class="fn" textLength="112" lengthAdjust="spacingAndGlyphs">Computer support</text><text x="1099.3" y="1355" class="fn" textLength="61.8" lengthAdjust="spacingAndGlyphs">specialists</text></g>
<g id="fn-9"><circle class="fc" cx="149.6" cy="1418.3" r="10.7"/><text x="149.6" y="1424.3" class="fn2">9</text>
<text x="172" y="1430" class="fn" textLength="64" lengthAdjust="spacingAndGlyphs">Registered</text><text x="172" y="1450" class="fn" textLength="39" lengthAdjust="spacingAndGlyphs">nurses</text></g>
<g id="fn-10"><circle class="fc" cx="266.8" cy="1420" r="10.7"/><text x="266.8" y="1426" class="fn2" textLength="14" lengthAdjust="spacingAndGlyphs">10</text>
<text x="284.3" y="1424.3" class="fn" textLength="60" lengthAdjust="spacingAndGlyphs">Computer</text><text x="284.3" y="1444.3" class="fn" textLength="65" lengthAdjust="spacingAndGlyphs">specialists,</text><text x="284.3" y="1464" class="fn" textLength="50.7" lengthAdjust="spacingAndGlyphs">all other</text></g>
<g id="fn-11"><circle class="fc" cx="387" cy="1420" r="10.7"/><text x="387" y="1426" class="fn2" textLength="14" lengthAdjust="spacingAndGlyphs">11</text>
<text x="405" y="1424.3" class="fn" textLength="109.5" lengthAdjust="spacingAndGlyphs">Paralegals &amp; legal</text><text x="405" y="1444.3" class="fn" textLength="59.6" lengthAdjust="spacingAndGlyphs">assistants</text></g>
<g id="fn-12"><circle class="fc" cx="551.4" cy="1416" r="10.7"/><text x="551.4" y="1422" class="fn2" textLength="14" lengthAdjust="spacingAndGlyphs">12</text>
<text x="568.2" y="1425" class="fn" textLength="130.5" lengthAdjust="spacingAndGlyphs">3 Professional degree</text><text x="568.2" y="1445" class="fn" textLength="71.4" lengthAdjust="spacingAndGlyphs">occupations</text><text x="568.2" y="1464.3" class="fn" textLength="49" lengthAdjust="spacingAndGlyphs">Lawyers</text><text x="568.2" y="1484" class="fn" textLength="73" lengthAdjust="spacingAndGlyphs">Pharmacists</text><text x="568.2" y="1503.3" class="fn" textLength="148" lengthAdjust="spacingAndGlyphs">Physicians and surgeons</text></g>
<g id="fn-13"><circle class="fc" cx="759" cy="1419" r="10.7"/><text x="759" y="1425" class="fn2" textLength="14" lengthAdjust="spacingAndGlyphs">13</text>
<text x="776.8" y="1424.3" class="fn" textLength="66" lengthAdjust="spacingAndGlyphs">Real estate</text><text x="776.8" y="1444.3" class="fn" textLength="73.5" lengthAdjust="spacingAndGlyphs">sales agents</text></g>
<g id="fn-14"><circle class="fc" cx="876.8" cy="1419" r="10.7"/><text x="876.8" y="1425" class="fn2" textLength="14" lengthAdjust="spacingAndGlyphs">14</text>
<text x="896.4" y="1424.3" class="fn" textLength="66.5" lengthAdjust="spacingAndGlyphs">Operations</text><text x="896.4" y="1444.3" class="fn" textLength="50" lengthAdjust="spacingAndGlyphs">research</text><text x="896.4" y="1464" class="fn" textLength="49.5" lengthAdjust="spacingAndGlyphs">analysts</text></g>
<g id="fn-15"><circle class="fc" cx="996.8" cy="1414.3" r="10.7"/><text x="996.8" y="1420.3" class="fn2" textLength="14" lengthAdjust="spacingAndGlyphs">15</text>
<text x="1015" y="1424.3" class="fn" textLength="185" lengthAdjust="spacingAndGlyphs">2 Doctoral degree occupations</text><text x="1015" y="1444.3" class="fn" textLength="143" lengthAdjust="spacingAndGlyphs">Postsecondary teachers</text><text x="1015" y="1464" class="fn" textLength="99" lengthAdjust="spacingAndGlyphs">Mathematicians</text></g>
</g>

<g id="footer">
<text x="96.9" y="1544" font-size="19" font-weight="700" fill="#2b2b2b" textLength="249.5" lengthAdjust="spacingAndGlyphs"><tspan fill="#1a7f3c">Visualizing</tspan>Economics.com</text>
<path d="M347.8 1544.8H1171" stroke="#666" stroke-width="1" fill="none"/>
<text x="96.9" y="1570.5" font-size="20" fill="#222" textLength="902.4" lengthAdjust="spacingAndGlyphs">Source: EMSI EconomicModeling.com (Compiled from data collected by BLS, BEA and US Census Bureau)</text>
<text x="1186.7" y="1570.5" font-size="20" font-weight="700" fill="#111" textLength="33.3" lengthAdjust="spacingAndGlyphs">135</text>
</g>
</svg>
